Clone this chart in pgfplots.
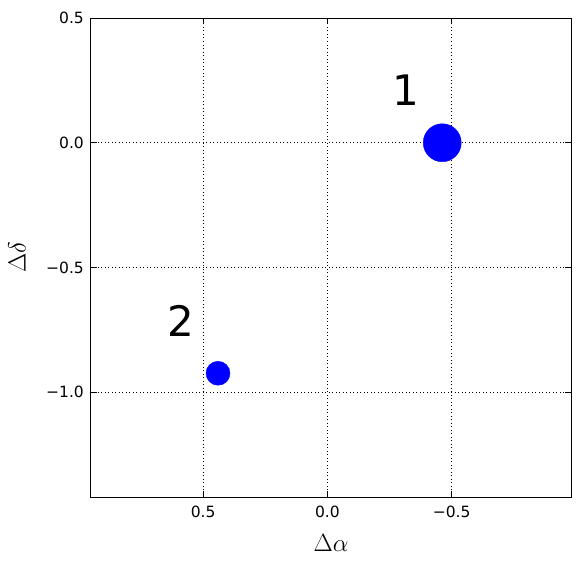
\documentclass[border=0pt]{standalone}
\usepackage{pgfplots}
\pgfplotsset{compat=1.18}
\usepackage{fontspec}
\setmainfont{DejaVu Sans}
\begin{document}
\begin{tikzpicture}
\begin{axis}[
 scale only axis, width=480pt, height=479pt,
 x dir=reverse, xmin=-0.98, xmax=0.951, ymin=-1.42, ymax=0.5,
 xtick={-0.5,0,0.5}, xticklabels={−0.5,0.0,0.5},
 ytick={-1,-0.5,0,0.5}, yticklabels={−1.0,−0.5,0.0,0.5},
 tick label style={font=\fontsize{15.5}{17}\selectfont, inner sep=0pt},
 xticklabel style={anchor=base, yshift=-20.5pt},
 yticklabel style={anchor=east, xshift=-7pt},
 tick align=inside, tick pos=both, major tick length=6pt,
 major tick style={black, line width=0.8pt},
 grid=major, grid style={black, line width=0.6pt, dash pattern=on 1pt off 2.5pt},
 axis line style={line width=1pt},
 xlabel={$\Delta\alpha$}, ylabel={$\Delta\delta$},
 label style={font=\fontsize{26}{30}\selectfont},
 xlabel style={at={(axis description cs:0.5,-0.096)}, anchor=center},
 ylabel style={at={(axis description cs:-0.154,0.5)}, anchor=center},
 clip=false,
]
\addplot[blue, only marks, mark=*, mark size=19pt, mark options={draw=blue, fill=blue}] coordinates {(-0.462,0)};
\addplot[blue, only marks, mark=*, mark size=12pt, mark options={draw=blue, fill=blue}] coordinates {(0.44,-0.924)};
\node[font=\fontsize{42}{48}\selectfont] at (axis cs:-0.316,0.212) {1};
\node[font=\fontsize{42}{48}\selectfont] at (axis cs:0.589,-0.713) {2};
\end{axis}
\pgfresetboundingbox
\path[use as bounding box] (current axis.south west) ++(-91pt,-69pt) rectangle ++(580pt,566pt);
\end{tikzpicture}
\end{document}
